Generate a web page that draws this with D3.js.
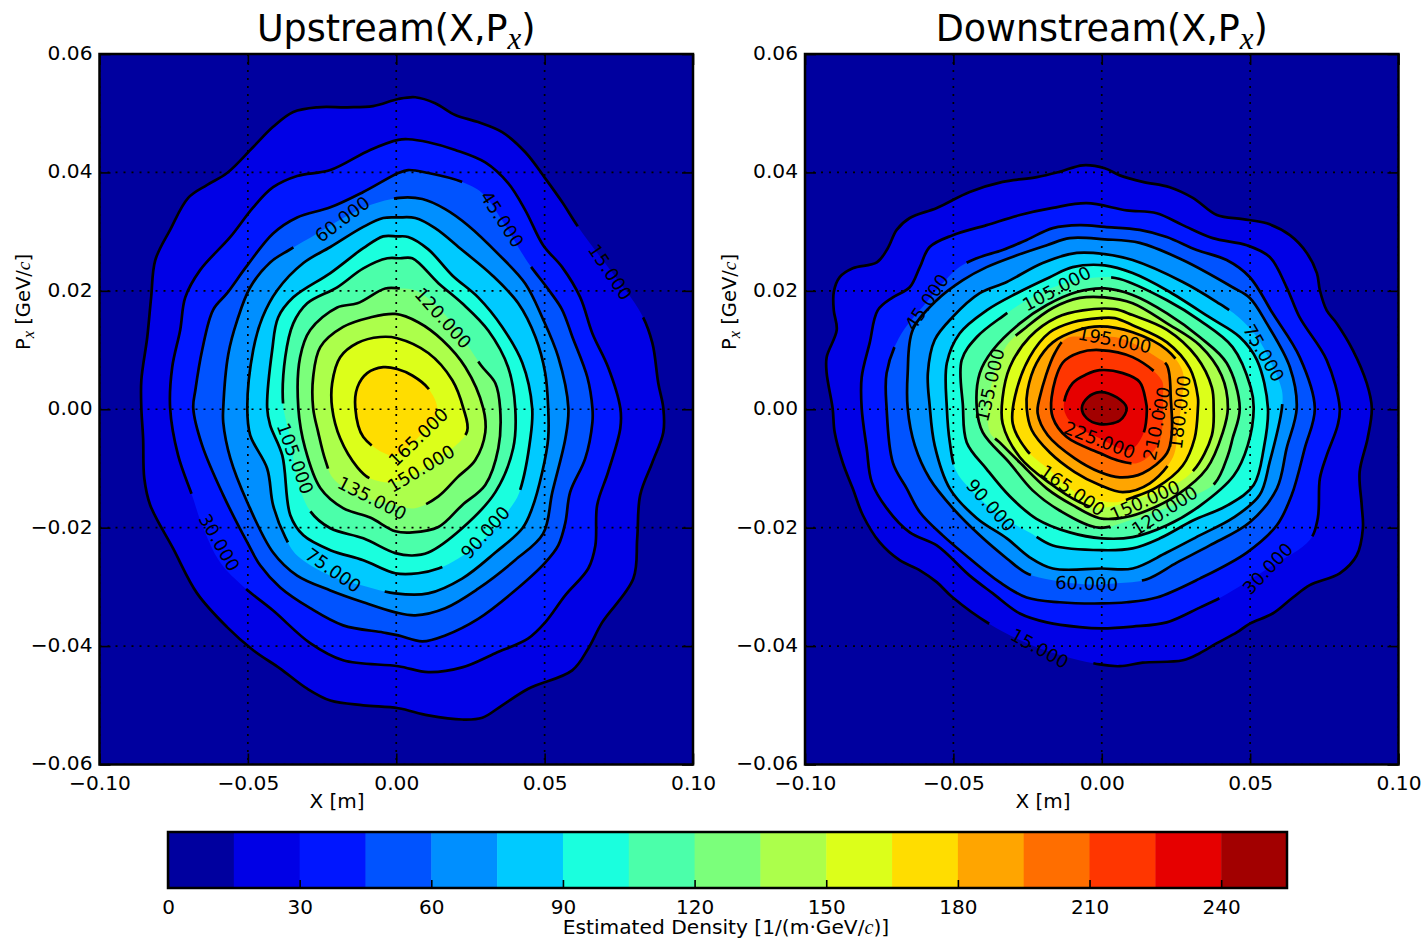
<!DOCTYPE html>
<html>
<head>
<meta charset="utf-8">
<script src="https://cdn.jsdelivr.net/npm/d3@7"></script>
<style>
body { margin: 0; background: #fff; }
text { font-family: "DejaVu Sans", sans-serif; fill: #000; }
.math { font-family: "Liberation Serif", serif; font-style: italic; }
</style>
</head>
<body>
<div id="chart"></div>
<script>
// contour outlines: [X in mm, Px in MeV/c]
var up15 = [[6.4,52.7],[13.1,51.7],[19.9,49.7],[27.6,48.5],[35.7,46.8],[43.5,43.4],[50.2,39.0],[55.9,35.0],[61.3,30.8],[72.1,23.5],[82.6,16.1],[86.3,11.2],[88.3,4.4],[90.0,0.2],[90.0,-3.9],[86.3,-9.0],[82.2,-14.5],[81.2,-21.8],[79.9,-28.6],[69.4,-36.0],[64.7,-40.4],[59.3,-44.1],[44.5,-47.2],[35.7,-50.0],[29.0,-52.1],[22.2,-52.4],[10.8,-51.7],[0.7,-50.5],[-11.1,-50.0],[-22.2,-49.2],[-30.0,-47.2],[-39.1,-43.8],[-48.2,-40.7],[-57.0,-36.8],[-67.1,-31.1],[-75.2,-23.5],[-82.9,-16.2],[-84.9,-11.7],[-85.3,-4.9],[-85.9,0.2],[-85.9,4.9],[-83.9,12.2],[-82.6,18.9],[-81.2,25.2],[-76.2,30.3],[-70.1,35.7],[-63.7,37.9],[-57.0,39.9],[-48.2,44.3],[-41.5,47.7],[-34.7,50.2],[-26.6,51.0],[-16.5,51.0],[-7.8,51.2],[0.7,52.4]];
var up30 = [[4.0,45.6],[10.8,45.1],[19.9,43.8],[30.0,41.7],[37.7,38.2],[43.5,33.6],[49.5,27.7],[55.9,24.0],[62.0,18.9],[66.1,12.8],[71.4,7.1],[75.5,0.2],[75.5,-3.2],[71.4,-10.6],[67.7,-16.2],[67.1,-23.0],[64.7,-26.9],[57.0,-31.4],[50.2,-36.0],[44.5,-38.7],[33.4,-41.2],[22.2,-43.6],[10.8,-44.4],[0.7,-43.4],[-17.9,-42.4],[-29.0,-39.5],[-41.5,-34.0],[-51.2,-30.1],[-59.3,-25.9],[-65.4,-19.6],[-68.7,-14.7],[-73.5,-7.8],[-76.2,0.2],[-75.5,7.1],[-72.8,13.4],[-71.1,18.9],[-66.1,23.5],[-55.9,29.1],[-48.2,34.1],[-41.5,37.5],[-33.4,39.4],[-22.2,40.4],[-8.8,43.8],[0.7,45.5]];
var up45 = [[4.0,40.4],[10.8,39.9],[21.6,38.5],[29.0,36.5],[35.7,31.9],[41.1,27.4],[44.5,24.7],[51.9,19.8],[55.9,16.8],[59.3,12.3],[64.4,5.4],[66.1,0.2],[66.1,-2.2],[63.7,-8.3],[58.6,-14.0],[57.0,-19.1],[54.6,-23.0],[50.2,-25.9],[39.1,-31.0],[27.6,-35.4],[16.5,-38.2],[8.8,-39.2],[0.7,-38.2],[-4.4,-37.7],[-17.9,-36.5],[-29.0,-33.6],[-39.1,-30.1],[-45.8,-26.4],[-50.2,-22.5],[-58.3,-14.5],[-65.4,-6.1],[-68.4,0.2],[-67.7,3.2],[-65.4,10.0],[-61.7,16.8],[-57.0,19.6],[-50.2,24.3],[-41.5,29.7],[-33.4,32.4],[-22.2,34.1],[-11.1,36.7],[0.7,39.9]];
var up60 = [[1.0,35.7],[8.8,35.5],[16.5,33.8],[24.3,31.0],[34.4,26.2],[43.5,21.2],[49.2,15.5],[54.6,8.8],[58.0,0.2],[57.0,-4.9],[52.6,-14.0],[49.5,-21.0],[40.0,-25.5],[27.6,-30.3],[16.5,-33.6],[6.4,-34.8],[-0.3,-34.3],[-11.1,-32.6],[-22.2,-30.6],[-33.4,-28.1],[-41.5,-24.2],[-50.2,-15.7],[-55.9,-8.3],[-58.3,-2.2],[-58.3,0.2],[-56.6,9.3],[-53.6,15.0],[-49.2,20.6],[-42.5,24.8],[-36.1,26.9],[-26.6,29.7],[-17.9,32.3],[-8.8,34.5]];
var up75 = [[6.4,32.3],[13.1,30.6],[22.2,26.9],[32.4,22.6],[41.1,17.9],[46.9,12.2],[50.2,6.1],[51.2,0.2],[51.2,-4.9],[49.2,-10.6],[45.8,-16.7],[42.5,-20.1],[33.4,-24.2],[22.2,-28.6],[10.8,-31.1],[-0.3,-31.1],[-11.1,-29.8],[-22.2,-28.1],[-33.4,-24.7],[-37.4,-21.6],[-41.5,-16.2],[-43.5,-10.0],[-49.2,-4.4],[-50.2,0.2],[-48.2,10.0],[-45.1,15.5],[-40.1,20.1],[-31.3,24.7],[-22.2,27.4],[-11.1,30.8],[-4.4,32.3],[0.7,32.4]];
var up90 = [[4.0,29.1],[10.8,27.0],[18.9,22.6],[27.6,18.9],[35.7,13.9],[42.5,7.8],[45.8,0.2],[45.2,-4.9],[41.5,-14.0],[39.1,-16.2],[30.0,-21.8],[20.9,-25.2],[14.2,-26.9],[7.4,-27.7],[-0.3,-27.7],[-11.1,-25.5],[-22.2,-23.8],[-31.3,-21.3],[-35.7,-17.9],[-38.4,-7.8],[-42.5,-2.7],[-43.5,0.2],[-41.8,10.0],[-39.8,15.5],[-34.7,18.9],[-22.2,23.0],[-11.1,27.2],[-4.4,29.2],[0.3,29.2]];
var up105 = [[5.4,25.5],[14.2,21.3],[22.2,17.9],[31.0,13.3],[37.7,7.1],[40.1,0.2],[39.4,-6.6],[33.4,-14.0],[22.2,-20.1],[10.8,-24.2],[5.4,-24.7],[-0.3,-24.3],[-11.1,-21.8],[-22.2,-20.1],[-29.0,-17.2],[-33.4,-11.7],[-35.7,-4.9],[-38.1,0.7],[-37.4,8.8],[-34.7,14.5],[-30.0,17.9],[-19.9,20.6],[-11.1,23.8],[-3.0,25.5],[1.3,25.5]];
var up120 = [[6.4,20.1],[14.2,17.2],[22.2,12.2],[28.6,7.4],[33.4,4.4],[35.0,0.2],[34.4,-6.6],[30.0,-12.8],[22.2,-16.2],[14.2,-19.9],[5.4,-20.8],[-0.3,-20.6],[-8.8,-18.3],[-17.9,-16.7],[-25.6,-13.3],[-30.7,-6.6],[-33.0,0.2],[-32.4,8.8],[-29.0,13.4],[-19.9,17.2],[-13.1,17.9],[-3.7,20.4],[1.3,20.4]];
var up135 = [[7.4,14.7],[15.5,11.7],[23.3,7.1],[29.3,0.2],[30.0,-3.9],[26.6,-8.6],[20.6,-11.5],[14.2,-14.7],[6.4,-16.7],[-0.3,-16.2],[-13.1,-14.5],[-21.2,-11.7],[-23.9,-8.6],[-26.3,-3.9],[-28.0,0.2],[-28.0,5.4],[-25.6,10.5],[-17.9,13.9],[-8.8,15.5],[-0.3,16.1]];
var up150 = [[10.8,9.5],[18.9,4.9],[22.6,0.2],[23.9,-3.7],[18.2,-6.9],[9.8,-10.0],[-0.3,-12.3],[-8.8,-11.7],[-13.1,-9.8],[-18.9,-4.9],[-21.6,0.2],[-21.6,4.4],[-18.9,8.8],[-13.1,11.2],[-5.4,12.2],[0.3,12.0]];
var up165 = [[5.4,5.7],[10.8,3.5],[13.8,-0.2],[8.1,-4.4],[1.3,-7.4],[-2.0,-7.8],[-11.1,-4.7],[-13.8,0.2],[-13.1,3.7],[-9.8,6.1],[-4.4,7.1],[0.3,6.8]];

var dn15 = [[-6.4,41.2],[1.0,40.7],[6.1,39.5],[13.8,38.4],[22.9,37.5],[30.7,35.7],[38.8,32.8],[47.5,32.1],[55.6,31.4],[63.4,29.4],[69.1,26.4],[72.5,23.0],[73.5,20.1],[75.8,16.7],[79.2,14.5],[84.6,10.0],[89.3,4.4],[91.0,0.2],[89.6,-4.9],[86.9,-10.6],[87.6,-16.2],[88.0,-20.1],[85.9,-24.7],[80.2,-27.7],[70.1,-29.7],[64.4,-31.8],[57.6,-34.5],[49.9,-36.2],[45.5,-37.7],[38.8,-39.5],[33.0,-41.2],[27.3,-42.4],[13.8,-42.8],[6.1,-43.4],[-0.7,-43.1],[-20.9,-40.4],[-37.7,-36.3],[-50.2,-31.8],[-55.6,-29.2],[-61.3,-27.2],[-68.1,-25.5],[-74.8,-22.5],[-80.5,-17.9],[-83.9,-13.4],[-87.3,-9.0],[-90.0,-3.9],[-90.7,0.2],[-92.7,6.1],[-92.7,8.8],[-89.3,13.4],[-90.3,16.7],[-90.3,19.8],[-88.3,22.3],[-83.9,23.8],[-75.8,24.8],[-72.1,27.2],[-69.1,30.3],[-64.7,32.3],[-55.6,34.0],[-44.5,36.7],[-33.4,38.4],[-21.9,39.2],[-14.2,40.1]];
var dn30 = [[-5.1,34.8],[8.4,33.6],[18.5,33.1],[27.3,31.1],[37.4,28.9],[48.9,27.7],[56.6,25.7],[62.3,20.6],[66.7,15.5],[75.8,8.3],[80.2,0.2],[79.5,-2.7],[75.8,-7.8],[73.5,-11.7],[72.8,-18.4],[70.1,-22.1],[55.9,-26.9],[40.8,-31.6],[33.0,-33.5],[21.9,-36.0],[10.4,-36.7],[0,-37.0],[-7.4,-36.8],[-18.5,-36.0],[-27.6,-34.5],[-36.7,-31.1],[-44.5,-28.1],[-55.6,-23.0],[-64.7,-20.8],[-72.5,-16.7],[-77.5,-12.3],[-79.2,-6.6],[-80.9,0.2],[-80.9,5.4],[-78.2,11.2],[-75.5,16.7],[-70.4,18.9],[-64.7,20.6],[-61.3,24.0],[-58.0,27.4],[-50.2,29.4],[-38.8,31.1],[-27.6,32.8],[-16.5,34.0]];
var dn45 = [[-7.4,31.1],[1.0,30.8],[12.8,30.3],[21.9,29.1],[32.0,26.9],[42.1,25.2],[49.9,22.3],[57.6,16.2],[66.7,8.8],[71.8,0.2],[68.4,-6.6],[64.0,-14.5],[59.0,-19.6],[48.9,-24.2],[33.0,-28.6],[18.5,-31.8],[8.4,-32.6],[0,-32.8],[-14.2,-32.6],[-25.3,-31.8],[-34.4,-29.2],[-44.5,-25.2],[-53.6,-21.3],[-61.3,-17.4],[-65.7,-13.4],[-70.4,-9.0],[-72.5,0.2],[-72.5,6.1],[-68.4,12.0],[-59.0,18.1],[-48.5,23.8],[-42.1,25.5],[-33.4,26.9],[-25.3,28.6],[-16.5,30.6]];
var dn60 = [[1.0,28.7],[12.8,28.1],[27.3,25.2],[44.1,20.6],[49.9,18.8],[55.6,14.5],[63.4,7.1],[65.7,0.2],[62.3,-6.6],[59.0,-13.4],[49.9,-19.1],[36.4,-23.0],[25.3,-25.9],[15.2,-28.7],[5.1,-29.4],[-5.1,-29.6],[-16.5,-28.9],[-25.3,-27.7],[-32.0,-25.2],[-41.1,-21.3],[-50.2,-16.7],[-58.0,-11.7],[-63.0,-6.1],[-65.4,0.2],[-65.4,6.1],[-63.7,13.4],[-55.6,18.4],[-46.8,21.8],[-38.8,24.0],[-28.6,26.0],[-18.5,27.7],[-10.8,28.9]];
var dn75 = [[1.0,26.2],[10.4,25.2],[27.3,21.5],[38.8,18.1],[46.2,15.5],[52.3,12.2],[56.6,8.3],[60.7,3.2],[60.7,0.2],[56.6,-8.9],[53.2,-14.5],[44.1,-18.4],[33.0,-21.3],[21.9,-24.2],[10.4,-26.9],[0,-26.9],[-16.5,-26.9],[-24.3,-25.0],[-32.0,-21.8],[-42.1,-18.4],[-51.2,-13.4],[-56.3,-6.1],[-58.0,0.7],[-58.6,6.1],[-56.3,11.7],[-50.2,15.6],[-41.1,19.6],[-32.0,21.5],[-19.9,24.7],[-8.4,26.4]];
var dn90 = [[1.0,24.3],[10.4,23.0],[21.9,20.1],[36.4,15.5],[46.5,12.2],[52.3,8.3],[56.0,0.2],[54.6,-6.6],[51.2,-12.8],[42.5,-16.2],[30.7,-18.8],[19.6,-21.8],[10.4,-23.5],[0,-23.8],[-16.5,-23.0],[-24.0,-20.9],[-34.4,-17.9],[-44.5,-13.4],[-49.2,-10.3],[-51.2,-5.6],[-52.2,0.2],[-52.2,7.8],[-47.9,12.8],[-38.8,16.7],[-28.6,19.6],[-17.5,22.3],[-9.8,24.0]];
var dn105 = [[-0.7,22.3],[6.1,22.0],[22.0,18.4],[33.0,15.0],[44.1,10.5],[50.2,3.7],[51.2,0.2],[49.2,-6.1],[44.5,-11.2],[33.4,-16.2],[22.0,-19.6],[10.4,-21.6],[0,-21.8],[-10.8,-20.8],[-22.0,-18.5],[-31.0,-14.7],[-38.8,-10.1],[-45.5,-5.6],[-46.8,0.7],[-47.2,8.3],[-42.1,12.2],[-33.4,15.7],[-25.3,18.4],[-14.2,21.0]];
var dn120 = [[1.0,20.4],[10.4,19.3],[22.0,16.2],[33.0,12.2],[42.1,7.8],[46.5,0.2],[44.1,-4.9],[42.5,-7.8],[38.1,-12.5],[29.7,-14.9],[19.6,-17.1],[9.4,-18.8],[-1.0,-20.0],[-14.2,-17.1],[-23.3,-13.7],[-31.0,-9.1],[-40.1,-3.9],[-42.1,0.2],[-41.1,6.1],[-36.7,10.0],[-27.6,14.5],[-18.5,17.6],[-8.4,19.8]];
var dn135 = [[1.0,18.9],[10.4,17.9],[22.0,14.5],[33.0,10.8],[40.4,5.7],[42.5,0.2],[40.8,-3.9],[35.4,-10.0],[25.3,-14.5],[13.8,-17.4],[6.1,-18.4],[-0.7,-18.4],[-9.8,-16.2],[-18.5,-13.4],[-27.6,-9.0],[-34.4,-5.6],[-37.7,-3.9],[-37.7,2.9],[-32.0,10.8],[-25.3,13.9],[-16.5,17.1],[-7.4,18.8]];
var dn150 = [[4.4,16.9],[10.4,15.9],[22.0,13.4],[32.0,8.8],[37.1,3.7],[37.7,0.2],[37.1,-4.4],[31.0,-10.3],[22.9,-13.2],[12.8,-15.0],[-0.7,-16.7],[-7.4,-15.7],[-17.5,-12.5],[-27.6,-8.1],[-33.4,-2.4],[-33.4,2.0],[-31.0,7.1],[-24.3,12.2],[-15.2,15.5],[-6.4,16.7]];
var dn165 = [[4.4,15.4],[10.4,14.2],[22.0,11.3],[29.7,6.9],[32.4,2.0],[32.4,0.2],[31.3,-4.9],[27.3,-9.5],[18.5,-13.2],[10.4,-14.9],[5.1,-15.7],[-0.7,-15.4],[-9.8,-13.7],[-17.5,-10.3],[-25.3,-6.9],[-30.0,-2.4],[-29.3,2.0],[-24.3,8.8],[-17.5,13.0],[-9.8,14.7],[-0.7,15.4]];
var dn180 = [[10.4,13.0],[22.0,10.0],[27.3,6.3],[27.0,1.5],[25.6,-3.5],[24.0,-8.1],[16.2,-12.5],[7.1,-14.0],[-0.7,-12.8],[-9.1,-10.6],[-17.5,-7.3],[-23.6,-3.5],[-25.3,0.2],[-25.0,3.2],[-22.0,7.8],[-16.5,11.3],[-8.4,13.3],[-0.7,14.0]];
var dn195 = [[10.4,11.2],[18.5,8.8],[22.0,7.4],[23.3,1.5],[23.6,-4.1],[22.0,-7.4],[13.8,-10.8],[6.1,-11.5],[-0.7,-10.6],[-9.1,-8.3],[-18.2,-4.4],[-21.6,-0.7],[-20.9,2.0],[-15.8,9.5],[-11.8,12.0],[-4.0,12.2],[4.4,12.2]];
var dn210 = [[-0.7,10.0],[10.4,8.8],[20.2,4.9],[20.6,2.0],[20.6,-1.4],[19.6,-5.2],[16.2,-7.8],[11.8,-9.1],[5.1,-8.6],[-0.7,-7.4],[-11.8,-4.7],[-16.5,-1.4],[-16.9,2.0],[-13.1,7.9],[-7.4,9.6]];
var dn225 = [[-0.7,6.6],[7.1,6.1],[12.8,4.6],[14.8,1.5],[15.2,-0.2],[13.8,-4.4],[9.4,-6.9],[-0.7,-4.9],[-7.4,-3.2],[-11.5,-1.5],[-12.8,0.7],[-9.8,4.4],[-5.1,5.9]];
var dn240 = [[-0.7,2.9],[5.1,2.0],[8.4,0.2],[6.1,-1.9],[-0.7,-2.5],[-5.1,-1.5],[-6.7,0.2],[-4.7,2.0]];

var upLevels = [15,30,45,60,75,90,105,120,135,150,165];
var upContours = [up15,up30,up45,up60,up75,up90,up105,up120,up135,up150,up165];
var dnLevels = [15,30,45,60,75,90,105,120,135,150,165,180,195,210,225,240];
var dnContours = [dn15,dn30,dn45,dn60,dn75,dn90,dn105,dn120,dn135,dn150,dn165,dn180,dn195,dn210,dn225,dn240];

// inline labels: level, X, Px, text angle
var upLabels = [[15,72.1,23.2,56],[30,-59.6,-22.5,60],[45,35.7,32.1,57],[60,-18.2,32.1,-37],[75,-21.2,-27.2,35],[90,30.0,-20.8,-48],[105,-34.0,-8.3,70],[120,15.8,15.4,48],[135,-8.1,-15.0,27],[150,8.4,-10.0,-31],[165,7.4,-4.7,-44]];
var dnLabels = [[15,-20.9,-40.4,29],[30,55.9,-26.9,-46],[45,-59.0,18.1,-56],[60,-5.1,-29.4,2],[75,54.6,9.5,60],[90,-37.4,-16.2,48],[105,-15.2,20.4,-28],[120,21.2,-17.1,-33],[135,-37.7,4.1,-77],[150,14.5,-15.4,-24],[165,-9.8,-13.7,35],[180,26.3,-0.5,-83],[195,4.4,11.7,11],[210,18.5,-2.4,-78],[225,-0.7,-5.2,21]];

var xTicks = [-0.10,-0.05,0,0.05,0.10];
var yTicks = [-0.06,-0.04,-0.02,0,0.02,0.04,0.06];
var barBounds = d3.range(0, 256, 15);
var barTicks = [0,30,60,90,120,150,180,210,240];

// one colour per band, 0-15 up to 240-255
var bandColors = ["#00009f","#0000e6","#0016ff","#0053ff","#008fff","#00caff","#1affde","#4bffaa","#7bff7b","#acff4b","#dcff1a","#ffdd00","#ffa500","#ff6e00","#ff3600","#e60000","#a20000"];

var svgWidth = 1426;
var svgHeight = 938;
var panelTop = 54;
var panelBottom = 764.5;
var labelGap = 112;

var svg = d3.select("#chart")
    .append("svg")
    .attr("width", svgWidth)
    .attr("height", svgHeight)
    .style("display", "block");

// text with an italic maths letter in it, parts are [string, "math"|"sub"|undefined]
function addParts(textSel, parts) {
    var back = null;
    parts.forEach(function(p) {
        var t = textSel.append("tspan").text(p[0]);
        if (p[1]) t.attr("class", "math");
        if (back) { t.attr("dy", back); back = null; }
        if (p[1] == "sub") {
            t.attr("dy", "0.27em").attr("font-size", "0.85em");
            back = "-0.23em";
        }
    });
}

function drawPanel(id, left, right, titleName, levels, contours, labels, xLabelX, yLabelX) {
    var x = d3.scaleLinear().domain([-0.1, 0.1]).range([left, right]);
    var y = d3.scaleLinear().domain([-0.06, 0.06]).range([panelBottom, panelTop]);

    var line = d3.line()
        .curve(d3.curveCatmullRomClosed.alpha(0.5))
        .x(d => x(d[0] / 1000))
        .y(d => y(d[1] / 1000));

    var g = svg.append("g");

    g.append("clipPath").attr("id", id)
        .append("rect")
        .attr("x", left).attr("y", panelTop)
        .attr("width", right - left).attr("height", panelBottom - panelTop);

    var plot = g.append("g").attr("clip-path", `url(#${id})`);

    plot.append("rect")
        .attr("x", left).attr("y", panelTop)
        .attr("width", right - left).attr("height", panelBottom - panelTop)
        .attr("fill", bandColors[0]);

    // filled bands, nested from the outside in
    contours.forEach(function(c, i) {
        plot.append("path")
            .attr("d", line(c))
            .attr("fill", bandColors[i + 1]);
    });

    // contour lines, each one broken where its label sits
    contours.forEach(function(c, i) {
        var path = plot.append("path")
            .attr("d", line(c))
            .attr("fill", "none")
            .attr("stroke", "#000")
            .attr("stroke-width", 2.7);

        var lab = labels.find(l => l[0] == levels[i]);
        if (!lab) return;

        var node = path.node();
        var total = node.getTotalLength();
        var lx = x(lab[1] / 1000), ly = y(lab[2] / 1000);
        var best = 0, bestDist = Infinity;
        for (var s = 0; s < total; s += 1) {
            var pt = node.getPointAtLength(s);
            var dist = (pt.x - lx) * (pt.x - lx) + (pt.y - ly) * (pt.y - ly);
            if (dist < bestDist) { bestDist = dist; best = s; }
        }
        path.attr("stroke-dasharray", `${total - labelGap} ${labelGap}`)
            .attr("stroke-dashoffset", -(best + labelGap / 2));
    });

    labels.forEach(function(l) {
        plot.append("text")
            .attr("transform", `translate(${x(l[1] / 1000)},${y(l[2] / 1000)}) rotate(${l[3]})`)
            .attr("text-anchor", "middle")
            .attr("dy", "0.36em")
            .attr("font-size", 18)
            .text(d3.format(".3f")(l[0]));
    });

    // dotted grid
    plot.selectAll(".gx").data(xTicks).enter().append("line")
        .attr("x1", d => x(d)).attr("x2", d => x(d))
        .attr("y1", panelTop).attr("y2", panelBottom)
        .attr("stroke", "#000").attr("stroke-width", 1.7).attr("stroke-dasharray", "2 6");
    plot.selectAll(".gy").data(yTicks).enter().append("line")
        .attr("y1", d => y(d)).attr("y2", d => y(d))
        .attr("x1", left).attr("x2", right)
        .attr("stroke", "#000").attr("stroke-width", 1.7).attr("stroke-dasharray", "2 6");

    var bottomAxis = d3.axisBottom(x).tickValues(xTicks).tickFormat(d3.format(".2f")).tickSizeInner(-11).tickSizeOuter(0).tickPadding(11);
    var topAxis = d3.axisTop(x).tickValues(xTicks).tickSizeInner(-11).tickSizeOuter(0);
    var leftAxis = d3.axisLeft(y).tickValues(yTicks).tickFormat(d3.format(".2f")).tickSizeInner(-11).tickSizeOuter(0).tickPadding(7);
    var rightAxis = d3.axisRight(y).tickValues(yTicks).tickSizeInner(-11).tickSizeOuter(0);

    [[bottomAxis, `translate(0,${panelBottom})`, true], [topAxis, `translate(0,${panelTop})`, false],
     [leftAxis, `translate(${left},0)`, true], [rightAxis, `translate(${right},0)`, false]].forEach(function(a) {
        var ag = g.append("g").attr("transform", a[1]).call(a[0]);
        ag.select(".domain").remove();
        ag.selectAll("line").attr("stroke", "#000").attr("stroke-width", 1.6);
        if (a[2]) {
            ag.selectAll("text").attr("font-size", 20.2).attr("font-family", null).attr("fill", "#000");
        } else {
            ag.selectAll("text").remove();
        }
    });
    // y labels sit a touch above their tick in the original
    g.selectAll("text").filter(function() { return this.getAttribute("x") && +this.getAttribute("x") < 0; })
        .attr("dy", "0.27em");

    g.append("rect")
        .attr("x", left).attr("y", panelTop)
        .attr("width", right - left).attr("height", panelBottom - panelTop)
        .attr("fill", "none").attr("stroke", "#000").attr("stroke-width", 2.5);

    var title = g.append("text")
        .attr("x", (left + right) / 2).attr("y", 41)
        .attr("text-anchor", "middle").attr("font-size", 36.5);
    addParts(title, [[titleName + "(X,P"], ["x", "sub"], [")"]]);

    g.append("text")
        .attr("x", xLabelX).attr("y", 808)
        .attr("text-anchor", "middle").attr("font-size", 20)
        .text("X [m]");

    var yLabel = g.append("text")
        .attr("transform", `translate(${yLabelX},302) rotate(-90)`)
        .attr("text-anchor", "middle").attr("font-size", 19.5);
    addParts(yLabel, [["P"], ["x", "sub"], [" [GeV/"], ["c", "math"], ["]"]]);
}

drawPanel("clipUp", 99.5, 693, "Upstream", upLevels, upContours, upLabels, 337, 30);
drawPanel("clipDn", 805, 1398.5, "Downstream", dnLevels, dnContours, dnLabels, 1043, 736);

// colour bar
var barX = d3.scaleLinear().domain([0, 255]).range([168, 1287]);
var barTop = 832;
var barBottom = 888;

svg.selectAll(".band")
    .data(bandColors)
    .enter()
    .append("rect")
    .attr("x", (d, i) => barX(barBounds[i]))
    .attr("y", barTop)
    .attr("width", (d, i) => barX(barBounds[i + 1]) - barX(barBounds[i]) + 0.5)
    .attr("height", barBottom - barTop)
    .attr("fill", d => d);

var barAxis = d3.axisBottom(barX).tickValues(barTicks).tickSizeInner(-8).tickSizeOuter(0).tickPadding(12);
var barG = svg.append("g").attr("transform", `translate(0,${barBottom})`).call(barAxis);
barG.select(".domain").remove();
barG.selectAll("line").attr("stroke", "#000").attr("stroke-width", 1.6);
barG.selectAll("text").attr("font-size", 20).attr("font-family", null).attr("fill", "#000");

svg.append("rect")
    .attr("x", 168).attr("y", barTop)
    .attr("width", 1119).attr("height", barBottom - barTop)
    .attr("fill", "none").attr("stroke", "#000").attr("stroke-width", 2.5);

var barLabel = svg.append("text")
    .attr("x", 726).attr("y", 934)
    .attr("text-anchor", "middle").attr("font-size", 20.2);
addParts(barLabel, [["Estimated Density [1/(m\u00b7GeV/"], ["c", "math"], [")]"]]);
</script>
</body>
</html>
